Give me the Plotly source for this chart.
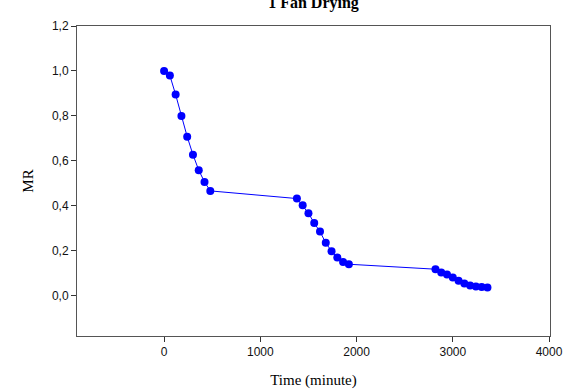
import plotly.graph_objects as go

time_min = [0, 60, 120, 180, 240, 300, 360, 420, 480,
            1380, 1440, 1500, 1560, 1620, 1680, 1740, 1800, 1860, 1920,
            2820, 2880, 2940, 3000, 3060, 3120, 3180, 3240, 3300, 3360]
mr = [1.0, 0.98, 0.895, 0.80, 0.708, 0.628, 0.559, 0.507, 0.467,
      0.433, 0.403, 0.368, 0.324, 0.286, 0.236, 0.199, 0.171, 0.151, 0.141,
      0.119, 0.104, 0.095, 0.082, 0.068, 0.055, 0.046, 0.042, 0.040, 0.038]

x_ticks = [0, 1000, 2000, 3000, 4000]
y_ticks = [0.0, 0.2, 0.4, 0.6, 0.8, 1.0, 1.2]

fig = go.Figure()
fig.add_trace(go.Scatter(
    x=time_min, y=mr, mode="lines+markers",
    line=dict(color="#0000FF", width=1),
    marker=dict(color="#0000FF", size=8),
    showlegend=False,
))

axis_common = dict(
    showgrid=False, zeroline=False, showline=True, mirror=True,
    linecolor="#555555", linewidth=1, automargin=False,
    ticks="outside", ticklen=5, tickcolor="#333333",
    tickfont=dict(family="Liberation Sans, Arial", size=12, color="#111111"),
)

fig.update_layout(
    width=566, height=389,
    margin=dict(l=77, r=16, t=26, b=53),
    paper_bgcolor="white", plot_bgcolor="white",
    separators=",.",
    title=dict(
        text="<b>1 Fan Drying</b>",
        font=dict(family="Liberation Serif, Times New Roman", size=16, color="black"),
        x=0.5, xref="paper", y=0.993, yref="container", yanchor="middle",
        automargin=False,
    ),
    xaxis=dict(
        range=[-905, 4010], tickvals=x_ticks,
        title=dict(text="Time (minute)",
                   font=dict(family="Liberation Serif, Times New Roman", size=15, color="black"),
                   standoff=16),
        **axis_common,
    ),
    yaxis=dict(
        range=[-0.178, 1.2], tickvals=y_ticks, tickformat=".1f",
        title=dict(text="MR",
                   font=dict(family="Liberation Serif, Times New Roman", size=15, color="black"),
                   standoff=14),
        **axis_common,
    ),
)

fig.write_html(
    "out.html",
    config={"displayModeBar": False},
    post_script="document.body.style.margin='0';document.body.style.overflow='hidden';",
)
